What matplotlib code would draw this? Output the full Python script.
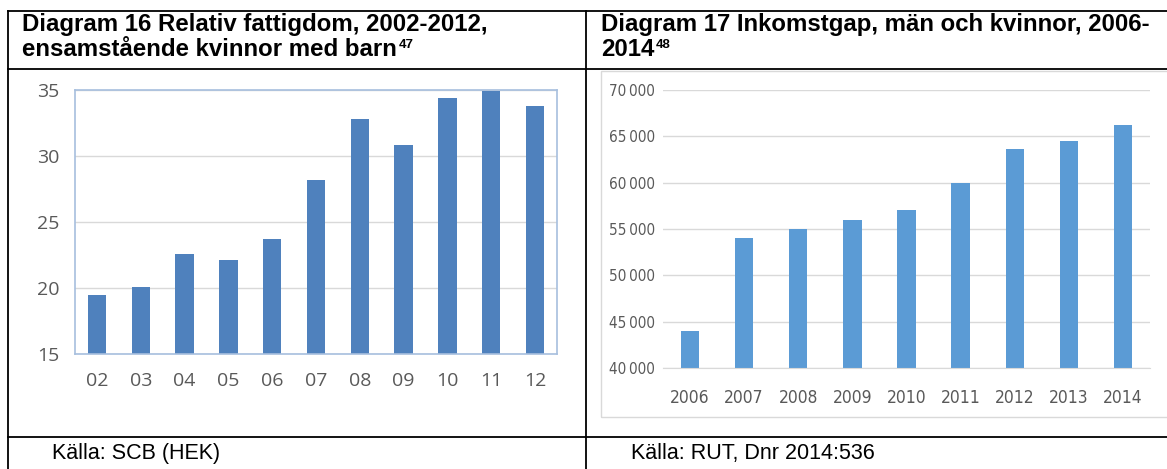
import matplotlib
matplotlib.use("Agg")
from matplotlib import pyplot as plt
from matplotlib.lines import Line2D
from matplotlib.patches import Rectangle
from matplotlib.text import Annotation
from matplotlib.ticker import FuncFormatter

# Diagram 16: relativ fattigdom, ensamstående kvinnor med barn (%)
years16 = ["02", "03", "04", "05", "06", "07", "08", "09", "10", "11", "12"]
poverty = [19.5, 20.1, 22.6, 22.1, 23.7, 28.2, 32.8, 30.8, 34.4, 34.9, 33.8]

# Diagram 17: inkomstgap män och kvinnor (kr)
years17 = ["2006", "2007", "2008", "2009", "2010", "2011", "2012", "2013", "2014"]
income_gap = [44000, 54000, 55000, 56000, 57000, 60000, 63600, 64500, 66200]

W, H = 1167, 469
TICK = "#595959"


def fx(x):
    return x / W


def fy(y):
    return 1 - y / H


def box(x0, y0, x1, y1):
    # rutans läge i figurkoordinater, från pixlar
    return [fx(x0), fy(y1), fx(x1) - fx(x0), fy(y0) - fy(y1)]


fig = plt.figure(figsize=(W / 100, H / 100), dpi=100)
fig.patch.set_facecolor("white")

# tabellens linjer
for xs, ys in [((8, W), (11.5, 11.5)), ((8, W), (69, 69)), ((8, W), (437, 437)),
               ((8, 8), (11, H)), ((586, 586), (11, H))]:
    fig.add_artist(Line2D([fx(xs[0]), fx(xs[1])], [fy(ys[0]), fy(ys[1])],
                          color="black", lw=1.3))

# diagramyta för diagram 17
fig.add_artist(Rectangle((fx(601), fy(417)), fx(W + 5) - fx(601), fy(71) - fy(417),
                         facecolor="none", edgecolor="#d9d9d9", lw=1))

title_font = dict(family="Liberation Sans", fontweight="bold", fontsize=17.3)
sup_font = dict(family="Liberation Sans", fontweight="bold", fontsize=9.5)


def title(x, line1, line2, note):
    fig.text(fx(x), fy(25), line1, va="center", ha="left", **title_font)
    t = fig.text(fx(x), fy(49), line2, va="center", ha="left", **title_font)
    # fotnotsnummer upphöjt efter andra raden
    fig.add_artist(Annotation(note, xy=(1, 1), xycoords=t, xytext=(1, -1),
                              textcoords="offset points", va="top", ha="left",
                              **sup_font))


title(22, "Diagram 16 Relativ fattigdom, 2002-2012,", "ensamstående kvinnor med barn", "47")
title(601, "Diagram 17 Inkomstgap, män och kvinnor, 2006-", "2014", "48")

src_font = dict(family="Liberation Sans", fontsize=15.5)
fig.text(fx(52), fy(453), "Källa: SCB (HEK)", va="center", ha="left", **src_font)
fig.text(fx(631), fy(453), "Källa: RUT, Dnr 2014:536", va="center", ha="left", **src_font)

# diagram 16
ax1 = fig.add_axes(box(75, 90, 557, 354))
ax1.bar(range(len(years16)), poverty, width=0.42, color="#4f81bd", zorder=2)
ax1.set_ylim(15, 35)
ax1.set_xlim(-0.5, len(years16) - 0.5)
ax1.set_yticks([15, 20, 25, 30, 35])
ax1.set_xticks(range(len(years16)))
ax1.set_xticklabels(years16)
ax1.grid(axis="y", color="#d9d9d9", lw=1, zorder=0)
for s in ax1.spines.values():
    s.set_color("#a7bfde")
    s.set_linewidth(1.2)
ax1.tick_params(length=0, colors=TICK, labelsize=14)
ax1.tick_params(axis="x", pad=13)
ax1.tick_params(axis="y", pad=11)
for lab in ax1.get_xticklabels() + ax1.get_yticklabels():
    lab.set_family("Open Sans")

# diagram 17
ax2 = fig.add_axes(box(663, 90, 1150, 368))
ax2.bar(range(len(years17)), income_gap, width=0.34, color="#5b9bd5", zorder=2)
ax2.set_ylim(40000, 70000)
ax2.set_xlim(-0.5, len(years17) - 0.5)
ax2.set_yticks(range(40000, 70001, 5000))
ax2.yaxis.set_major_formatter(FuncFormatter(lambda v, p: f"{int(v):,}".replace(",", "\u2009")))
ax2.set_xticks(range(len(years17)))
ax2.set_xticklabels(years17)
ax2.grid(axis="y", color="#d9d9d9", lw=1, zorder=0)
for name, s in ax2.spines.items():
    s.set_visible(name == "bottom")
ax2.spines["bottom"].set_color("#d9d9d9")
ax2.tick_params(length=0, colors=TICK)
ax2.tick_params(axis="x", pad=15, labelsize=12.5)
ax2.tick_params(axis="y", pad=6, labelsize=11)
for lab in ax2.get_xticklabels() + ax2.get_yticklabels():
    lab.set_family("DejaVu Sans")
    lab.set_fontstretch("condensed")

fig.savefig("out.png", dpi=100)
